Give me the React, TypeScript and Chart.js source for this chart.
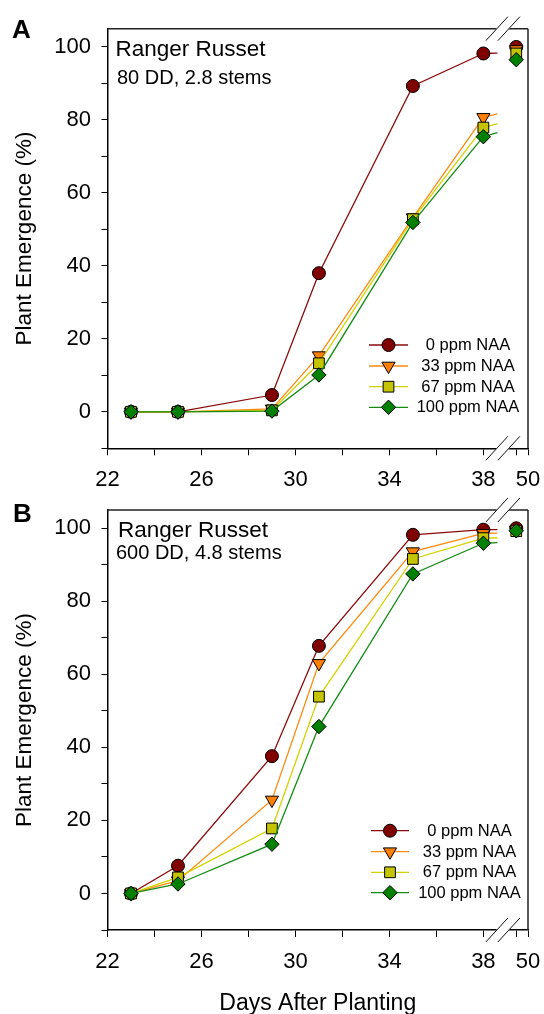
import React, { useEffect, useRef } from 'react';
import { Chart, registerables } from 'chart.js';
Chart.register(...registerables);

const FONT = '"Liberation Sans", Arial, Helvetica, sans-serif';

// ---- data ----
const days = [23, 25, 29, 31, 35, 38, 49.5];
const seriesNames = ['0 ppm NAA', '33 ppm NAA', '67 ppm NAA', '100 ppm NAA'];

const panelA_0 = [0, 0, 4.6, 38.0, 89.3, 98.2, 100];
const panelA_33 = [0, 0, 0.8, 15.4, 53.2, 80.7, 99.3];
const panelA_67 = [0, 0, 0.4, 13.3, 52.8, 77.9, 98.2];
const panelA_100 = [0, 0, 0.2, 10.1, 51.9, 75.4, 96.5];

const panelB_0 = [0, 7.6, 37.6, 67.8, 98.2, 99.6, 100];
const panelB_33 = [0, 3.5, 25.6, 63.0, 93.6, 98.6, 99.5];
const panelB_67 = [0, 4.4, 17.8, 53.9, 91.6, 97.3, 99.2];
const panelB_100 = [0, 2.6, 13.5, 45.7, 87.5, 95.9, 99.3];

const xTickValues = [22, 24, 26, 28, 30, 32, 34, 36, 38, 49.5, 50];
const xTickLabels = ['22', '', '26', '', '30', '', '34', '', '38', '', '50'];
const yTickValues = [-10, 0, 10, 20, 30, 40, 50, 60, 70, 80, 90, 100];
const yTickLabels = ['', '0', '', '20', '', '40', '', '60', '', '80', '', '100'];

// ---- broken x axis ----
const BREAK_FROM = 38.6;
const BREAK_TO = 49;
const BREAK_GAP = 0.3;
const toAxis = (d: number) => (d <= BREAK_FROM ? d : d - BREAK_TO + BREAK_FROM + BREAK_GAP);

// ---- styles ----
const lineColors = ['#8B0A0A', '#FF8A10', '#D2D200', '#148C14'];
const fillColors = ['#800000', '#FF8000', '#C4C400', '#008000'];
const pointStyles = ['circle', 'triangle', 'rect', 'rectRot'];
const pointRotations = [0, 180, 0, 0];
const pointRadii = [6.5, 7.6, 7.6, 7.2];

function drawMarker(ctx: CanvasRenderingContext2D, style: string, rot: number, r: number, x: number, y: number, fill: string) {
  ctx.beginPath();
  if (style === 'circle') {
    ctx.arc(x, y, r, 0, Math.PI * 2);
  } else if (style === 'triangle') {
    let rad = (rot * Math.PI) / 180;
    ctx.moveTo(x + Math.sin(rad) * r, y - Math.cos(rad) * r);
    rad += (2 * Math.PI) / 3;
    ctx.lineTo(x + Math.sin(rad) * r, y - Math.cos(rad) * r);
    rad += (2 * Math.PI) / 3;
    ctx.lineTo(x + Math.sin(rad) * r, y - Math.cos(rad) * r);
    ctx.closePath();
  } else if (style === 'rect') {
    const s = Math.SQRT1_2 * r;
    ctx.rect(x - s, y - s, 2 * s, 2 * s);
  } else {
    ctx.moveTo(x, y - r);
    ctx.lineTo(x + r, y);
    ctx.lineTo(x, y + r);
    ctx.lineTo(x - r, y);
    ctx.closePath();
  }
  ctx.fillStyle = fill;
  ctx.fill();
  ctx.lineWidth = 1;
  ctx.strokeStyle = '#000';
  ctx.stroke();
}

type PanelCfg = {
  id: string;
  canvasTop: number;
  height: number;
  padTop: number;
  xAxisHeight: number;
  letter: string;
  letterPos: [number, number];
  title: string;
  titlePos: [number, number];
  subtitle: string;
  subtitlePos: [number, number];
  legendRows: number[];
  legendLine: [number, number];
  legendMarkerX: number;
  legendTextX: number;
  xTitle: string | null;
  xTitleY: number;
  values: number[][];
};

const panels: PanelCfg[] = [
  {
    id: 'A',
    canvasTop: 0,
    height: 500,
    padTop: 28.7,
    xAxisHeight: 51.7,
    letter: 'A',
    letterPos: [12, 37.5],
    title: 'Ranger Russet',
    titlePos: [115.5, 56],
    subtitle: '80 DD, 2.8 stems',
    subtitlePos: [117, 84],
    legendRows: [345, 366, 386.7, 407.3],
    legendLine: [369, 408],
    legendMarkerX: 388.5,
    legendTextX: 468,
    xTitle: null,
    xTitleY: 0,
    values: [panelA_0, panelA_33, panelA_67, panelA_100],
  },
  {
    id: 'B',
    canvasTop: 490,
    height: 524,
    padTop: 20,
    xAxisHeight: 84,
    letter: 'B',
    letterPos: [13, 32],
    title: 'Ranger Russet',
    titlePos: [118, 46.8],
    subtitle: '600 DD, 4.8 stems',
    subtitlePos: [116, 69],
    legendRows: [340.7, 361.7, 382.3, 402.7],
    legendLine: [371, 409],
    legendMarkerX: 390,
    legendTextX: 469.5,
    xTitle: 'Days After Planting',
    xTitleY: 520,
    values: [panelB_0, panelB_33, panelB_67, panelB_100],
  },
];

function makeOverlay(cfg: PanelCfg) {
  return {
    id: 'overlay' + cfg.id,
    beforeDatasetsDraw(chart: any) {
      const ctx = chart.ctx as CanvasRenderingContext2D;
      const xs = chart.scales.x;
      const ys = chart.scales.y;
      const n = days.length;
      const d0 = days[n - 2];
      const d1 = days[n - 1];
      // segment towards the last point, computed in real day units and cut at the axis break
      chart.data.datasets.forEach((ds: any, i: number) => {
        const vals = cfg.values[i];
        const v0 = vals[n - 2];
        const v1 = vals[n - 1];
        const vBreak = v0 + ((v1 - v0) * (BREAK_FROM - d0)) / (d1 - d0);
        ctx.save();
        ctx.strokeStyle = lineColors[i];
        ctx.lineWidth = ds.borderWidth;
        ctx.beginPath();
        ctx.moveTo(xs.getPixelForValue(toAxis(d0)), ys.getPixelForValue(v0));
        ctx.lineTo(xs.getPixelForValue(BREAK_FROM), ys.getPixelForValue(vBreak));
        ctx.stroke();
        ctx.restore();
      });
    },
    afterDraw(chart: any) {
      const ctx = chart.ctx as CanvasRenderingContext2D;
      const area = chart.chartArea;
      const xs = chart.scales.x;
      ctx.save();
      // frame: top and right
      ctx.strokeStyle = '#222';
      ctx.lineWidth = 1.5;
      ctx.beginPath();
      ctx.moveTo(area.left, area.top);
      ctx.lineTo(area.right, area.top);
      ctx.moveTo(area.right, area.top);
      ctx.lineTo(area.right, area.bottom);
      ctx.stroke();

      // axis break marks
      const b1 = xs.getPixelForValue(BREAK_FROM) - 0.6;
      const b2 = b1 + 12;
      const dx = 11;
      const dy = 12;
      [area.top, area.bottom].forEach((yy: number) => {
        ctx.fillStyle = '#fff';
        ctx.beginPath();
        ctx.moveTo(b1 - 2, yy + 3);
        ctx.lineTo(b1 + 1, yy - 3);
        ctx.lineTo(b2 + 2, yy - 3);
        ctx.lineTo(b2 - 1, yy + 3);
        ctx.closePath();
        ctx.fill();
        ctx.strokeStyle = '#111';
        ctx.lineWidth = 1;
        ctx.beginPath();
        ctx.moveTo(b1 - dx, yy + dy);
        ctx.lineTo(b1 + dx, yy - dy);
        ctx.moveTo(b2 - dx, yy + dy);
        ctx.lineTo(b2 + dx, yy - dy);
        ctx.stroke();
      });

      ctx.fillStyle = '#000';
      ctx.textBaseline = 'alphabetic';
      ctx.textAlign = 'left';
      // panel letter
      ctx.font = `bold 26px ${FONT}`;
      ctx.fillText(cfg.letter, cfg.letterPos[0], cfg.letterPos[1]);
      // title / subtitle
      ctx.font = `22.5px ${FONT}`;
      ctx.fillText(cfg.title, cfg.titlePos[0], cfg.titlePos[1]);
      ctx.font = `20px ${FONT}`;
      ctx.fillText(cfg.subtitle, cfg.subtitlePos[0], cfg.subtitlePos[1]);

      // y axis title
      ctx.save();
      ctx.translate(25, (area.top + area.bottom) / 2);
      ctx.rotate(-Math.PI / 2);
      ctx.textAlign = 'center';
      ctx.textBaseline = 'middle';
      ctx.font = `22.5px ${FONT}`;
      ctx.fillText('Plant Emergence (%)', 0, 0);
      ctx.restore();

      // x axis title
      if (cfg.xTitle) {
        ctx.textAlign = 'center';
        ctx.textBaseline = 'alphabetic';
        ctx.font = `23px ${FONT}`;
        ctx.fillText(cfg.xTitle, (area.left + area.right) / 2, cfg.xTitleY);
      }

      // legend
      seriesNames.forEach((name, i) => {
        const y = cfg.legendRows[i];
        ctx.strokeStyle = lineColors[i];
        ctx.lineWidth = 1.3;
        ctx.beginPath();
        ctx.moveTo(cfg.legendLine[0], y);
        ctx.lineTo(cfg.legendLine[1], y);
        ctx.stroke();
        drawMarker(ctx, pointStyles[i], pointRotations[i], pointRadii[i], cfg.legendMarkerX, y, fillColors[i]);
        ctx.fillStyle = '#000';
        ctx.font = `16.5px ${FONT}`;
        ctx.textAlign = 'center';
        ctx.textBaseline = 'middle';
        ctx.fillText(name, cfg.legendTextX, y + 0.5);
      });
      ctx.restore();
    },
  };
}

function Panel({ cfg }: { cfg: PanelCfg }) {
  const ref = useRef<HTMLCanvasElement>(null);
  useEffect(() => {
    if (!ref.current) return;
    const last = days.length - 1;
    const datasets = cfg.values.map((vals, i) => ({
      label: seriesNames[i],
      data: days.map((d, j) => ({ x: toAxis(d), y: vals[j] })),
      borderColor: lineColors[i],
      backgroundColor: fillColors[i],
      borderWidth: 1.3,
      pointBackgroundColor: fillColors[i],
      pointBorderColor: '#000',
      pointBorderWidth: 1,
      pointRadius: pointRadii[i],
      pointStyle: pointStyles[i],
      pointRotation: pointRotations[i],
      tension: 0,
      order: 3 - i,
      clip: false as any,
      segment: {
        borderColor: (c: any) => (c.p1DataIndex === last ? 'rgba(0,0,0,0)' : lineColors[i]),
      },
    }));
    const chart = new Chart(ref.current, {
      type: 'line',
      data: { datasets },
      options: {
        responsive: false,
        animation: false,
        devicePixelRatio: 1,
        layout: { padding: { top: cfg.padTop, right: 16, left: 0, bottom: 0 } },
        plugins: { legend: { display: false }, tooltip: { enabled: false } },
        scales: {
          x: {
            type: 'linear',
            min: 22,
            max: toAxis(50),
            afterBuildTicks: (s: any) => {
              s.ticks = xTickValues.map((v) => ({ value: toAxis(v) }));
            },
            afterFit: (s: any) => {
              s.height = cfg.xAxisHeight;
              s.paddingLeft = 0;
              s.paddingRight = 0;
            },
            ticks: {
              autoSkip: false,
              maxRotation: 0,
              color: '#000',
              padding: 11.5,
              font: { size: 22, family: FONT },
              callback: (_v: any, idx: number) => xTickLabels[idx],
            },
            grid: {
              display: true,
              drawOnChartArea: false,
              drawTicks: true,
              tickLength: 7,
              tickColor: '#000',
              tickWidth: 1,
            },
            border: { display: true, color: '#000', width: 1.5 },
          },
          y: {
            type: 'linear',
            min: -10,
            max: 105,
            afterBuildTicks: (s: any) => {
              s.ticks = yTickValues.map((v) => ({ value: v }));
            },
            afterFit: (s: any) => {
              s.width = 107.5;
              s.paddingTop = 0;
              s.paddingBottom = 0;
            },
            ticks: {
              autoSkip: false,
              color: '#000',
              padding: 10.5,
              font: { size: 22, family: FONT },
              callback: (_v: any, idx: number) => yTickLabels[idx],
            },
            grid: {
              display: true,
              drawOnChartArea: false,
              drawTicks: true,
              tickLength: 6,
              tickColor: '#000',
              tickWidth: 1,
            },
            border: { display: true, color: '#000', width: 1.5 },
          },
        },
      } as any,
      plugins: [makeOverlay(cfg)],
    });
    return () => chart.destroy();
  }, [cfg]);
  return (
    <canvas
      ref={ref}
      width={544}
      height={cfg.height}
      style={{ position: 'absolute', left: 0, top: cfg.canvasTop, width: 544, height: cfg.height }}
    />
  );
}

export default function App() {
  return (
    <div style={{ position: 'absolute', left: 0, top: 0, width: 544, height: 1014, background: '#fff', overflow: 'hidden' }}>
      {panels.map((p) => (
        <Panel key={p.id} cfg={p} />
      ))}
    </div>
  );
}
